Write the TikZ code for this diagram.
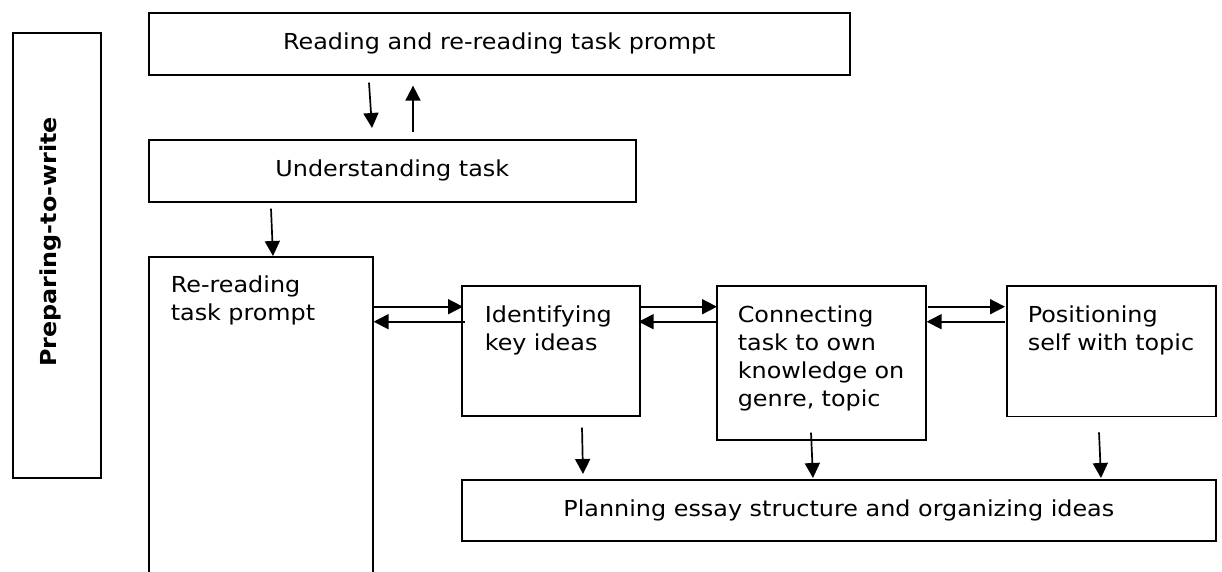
\documentclass[tikz,border=0pt]{standalone}
\usepackage{fontspec}
\setmainfont{DejaVu Sans}[FakeStretch=1.085]
\usetikzlibrary{arrows.meta,calc}
\begin{document}
\begin{tikzpicture}[x=1pt,y=-1pt,
  box/.style={draw, line width=1.6pt, inner sep=0pt, anchor=north west},
  tbox/.style={box, align=left, inner ysep=0pt},
  arr/.style={line width=1.7pt, -{Triangle[length=15pt,width=15pt]}},
  font=\fontsize{22}{28}\selectfont]
\useasboundingbox (0,0) rectangle (1222,571);
\clip (0,0) rectangle (1222,571);
% left label box
\node[box, minimum width=88pt, minimum height=445pt] (prep) at (12,32) {};
\node[rotate=90, anchor=base, inner sep=0pt, font=\fontsize{22}{28}\selectfont\bfseries] (preplbl) at (56.5,242) {Preparing-to-write};
% top boxes
\node[box, minimum width=701pt, minimum height=62pt] (top) at (148,12) {Reading and re-reading task prompt};
\node[box, minimum width=487pt, minimum height=62pt] (und) at (148,139) {Understanding task};
% tall boxes
\node[tbox, inner xsep=22pt, text width=180pt, text height=35.7pt, text depth=314.3pt] (rr) at (148,256) {Re-reading\\task~prompt};
\node[tbox, inner xsep=23pt, text width=132pt, text height=36.7pt, text depth=93.3pt] (id) at (461,285) {Identifying\\key~ideas};
\node[tbox, inner xsep=21pt, text width=167pt, text height=36.7pt, text depth=117.3pt] (con) at (716,285) {Connecting\\task~to~own\\knowledge~on\\genre,~topic};
\node[tbox, inner xsep=21pt, text width=167pt, text height=36.7pt, text depth=94pt] (pos) at (1006,285) {Positioning\\self~with~topic};
\node[box, minimum width=754pt, minimum height=61pt] (plan) at (461,479) {Planning essay structure and organizing ideas};
% vertical connectors
\draw[arr] ($(top.south west)+(221,7)$) -- ($(und.north west)+(224,-11)$);
\draw[arr] ($(und.north west)+(265,-7)$) -- ($(top.south west)+(265,10)$);
\draw[arr] ($(und.south west)+(123,6)$) -- ($(rr.north west)+(125,0)$);
% horizontal connectors
\draw[arr] ($(rr.north east)+(0,50.7)$) -- ($(id.north west)+(2,21.7)$);
\draw[arr] ($(id.north west)+(4,36.7)$) -- ($(rr.north east)+(0,65.7)$);
\draw[arr] ($(id.north east)+(0,21.7)$) -- ($(con.north west)+(1,21.7)$);
\draw[arr] ($(con.north west)+(0,36.7)$) -- ($(id.north east)+(-2,36.7)$);
\draw[arr] ($(con.north east)+(1,21.7)$) -- ($(pos.north west)+(-1,21.7)$);
\draw[arr] ($(pos.north west)+(-1,36.7)$) -- ($(con.north east)+(0,36.7)$);
% down to planning
\draw[arr] ($(id.south west)+(121,11)$) -- ($(plan.north west)+(122,-5)$);
\draw[arr] ($(con.south west)+(95,-8)$) -- ($(plan.north west)+(352,-1)$);
\draw[arr] ($(pos.south west)+(93,15)$) -- ($(plan.north west)+(640,-1)$);
\end{tikzpicture}
\end{document}
